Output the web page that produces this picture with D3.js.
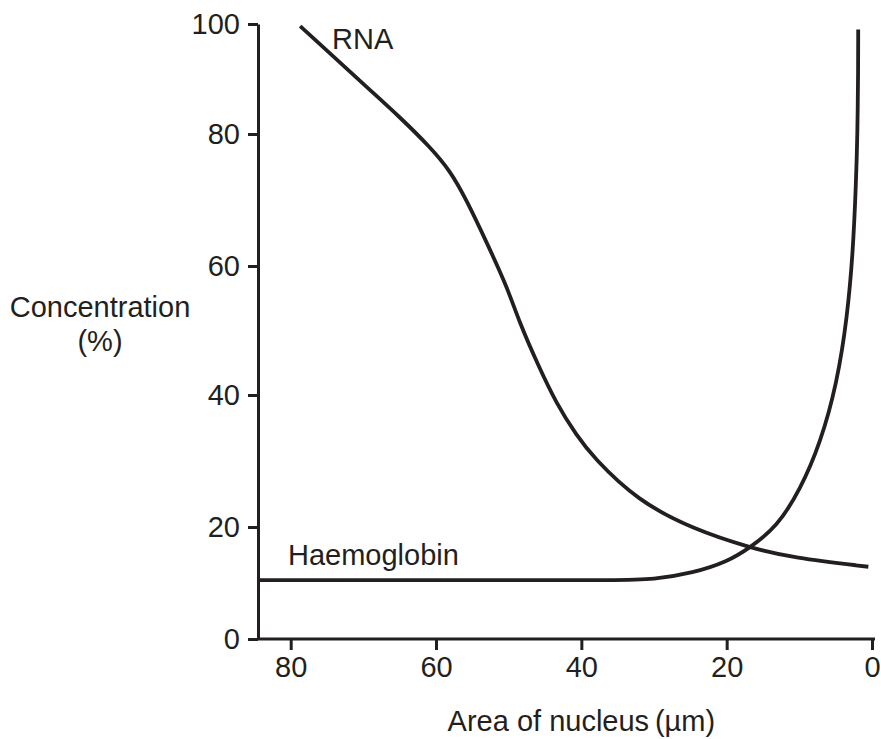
<!DOCTYPE html>
<html>
<head>
<meta charset="utf-8">
<script src="https://cdn.jsdelivr.net/npm/d3@7"></script>
<style>
    body { margin: 0; background: #fff; }
    text { font-family: "Liberation Sans", Arial, sans-serif; fill: #231f20; }
</style>
</head>
<body>
<script>
// values (x = area of nucleus, y = concentration %)
const rnaX = [78.7, 74.6, 69.1, 65.0, 60.8, 58.1, 55.8, 53.0, 50.2, 48.5, 46.1, 43.4, 40.6, 38.4, 32.3, 24.6, 16.8, 10.9, 0.5];
const rnaY = [99.6, 94.7, 88.0, 83.1, 78.0, 74.5, 70.0, 63.5, 56.7, 51.2, 45.0, 38.6, 33.8, 30.6, 24.0, 19.6, 16.3, 14.5, 12.9];

const hbX = [84.5, 50, 35, 30.1, 24.6, 19.9, 16.8, 13.1, 9.9, 7.1, 4.8, 3.4, 2.6, 2.2, 2.0, 1.9, 1.9];
const hbY = [10.5, 10.5, 10.5, 10.6, 11.8, 13.8, 16.3, 20.0, 25.6, 32.7, 41.9, 52.1, 62.4, 72.6, 80.0, 92.0, 99.0];

const xTicks = [80, 60, 40, 20, 0];
const yTicks = [0, 20, 40, 60, 80, 100];

const width = 881, height = 739;
const ink = "#231f20";

const svg = d3.select("body").append("svg")
    .attr("width", width)
    .attr("height", height);

const x = d3.scaleLinear().domain([84.5, 0]).range([258, 872]);
// the printed y axis is not evenly spaced, so follow its tick positions
const y = d3.scaleLinear().domain(yTicks).range([639, 527, 395, 266, 134, 24]);

const xAxis = svg.append("g")
    .attr("transform", `translate(0,${y(0)})`)
    .call(d3.axisBottom(x).tickValues(xTicks).tickSize(11).tickSizeOuter(0).tickPadding(6));

const yAxis = svg.append("g")
    .attr("transform", `translate(${x(84.5)},0)`)
    .call(d3.axisLeft(y).tickValues(yTicks).tickSize(10).tickSizeOuter(0).tickPadding(8));

[xAxis, yAxis].forEach(function (g) {
    g.select(".domain").attr("stroke", ink).attr("stroke-width", 3);
    g.selectAll(".tick line").attr("stroke", ink).attr("stroke-width", 3);
    g.selectAll(".tick text")
        .attr("fill", ink)
        .style("font-size", "29px")
        .style("font-family", "'Liberation Sans', Arial, sans-serif");
});
xAxis.select(".domain").attr("d", `M${x(84.5)},0H${x(0) + 3}`);

const line = d3.line()
    .x(function (d) { return x(d[0]); })
    .y(function (d) { return y(d[1]); })
    .curve(d3.curveBasis);

const series = [d3.zip(rnaX, rnaY), d3.zip(hbX, hbY)];

svg.selectAll("path.curve")
    .data(series)
    .enter()
    .append("path")
    .classed("curve", true)
    .attr("d", line)
    .attr("fill", "none")
    .attr("stroke", ink)
    .attr("stroke-width", 3.8);

// labels
svg.append("text").attr("x", 332).attr("y", 49).style("font-size", "29px").text("RNA");
svg.append("text").attr("x", 288).attr("y", 565).style("font-size", "29px").text("Haemoglobin");

svg.append("text").attr("x", 100).attr("y", 317).attr("text-anchor", "middle")
    .style("font-size", "29px").text("Concentration");
svg.append("text").attr("x", 100).attr("y", 351).attr("text-anchor", "middle")
    .style("font-size", "29px").text("(%)");

svg.append("text").attr("x", x(40)).attr("y", 731).attr("text-anchor", "middle")
    .style("font-size", "29px").text("Area of nucleus\u2009(µm)");
</script>
</body>
</html>
